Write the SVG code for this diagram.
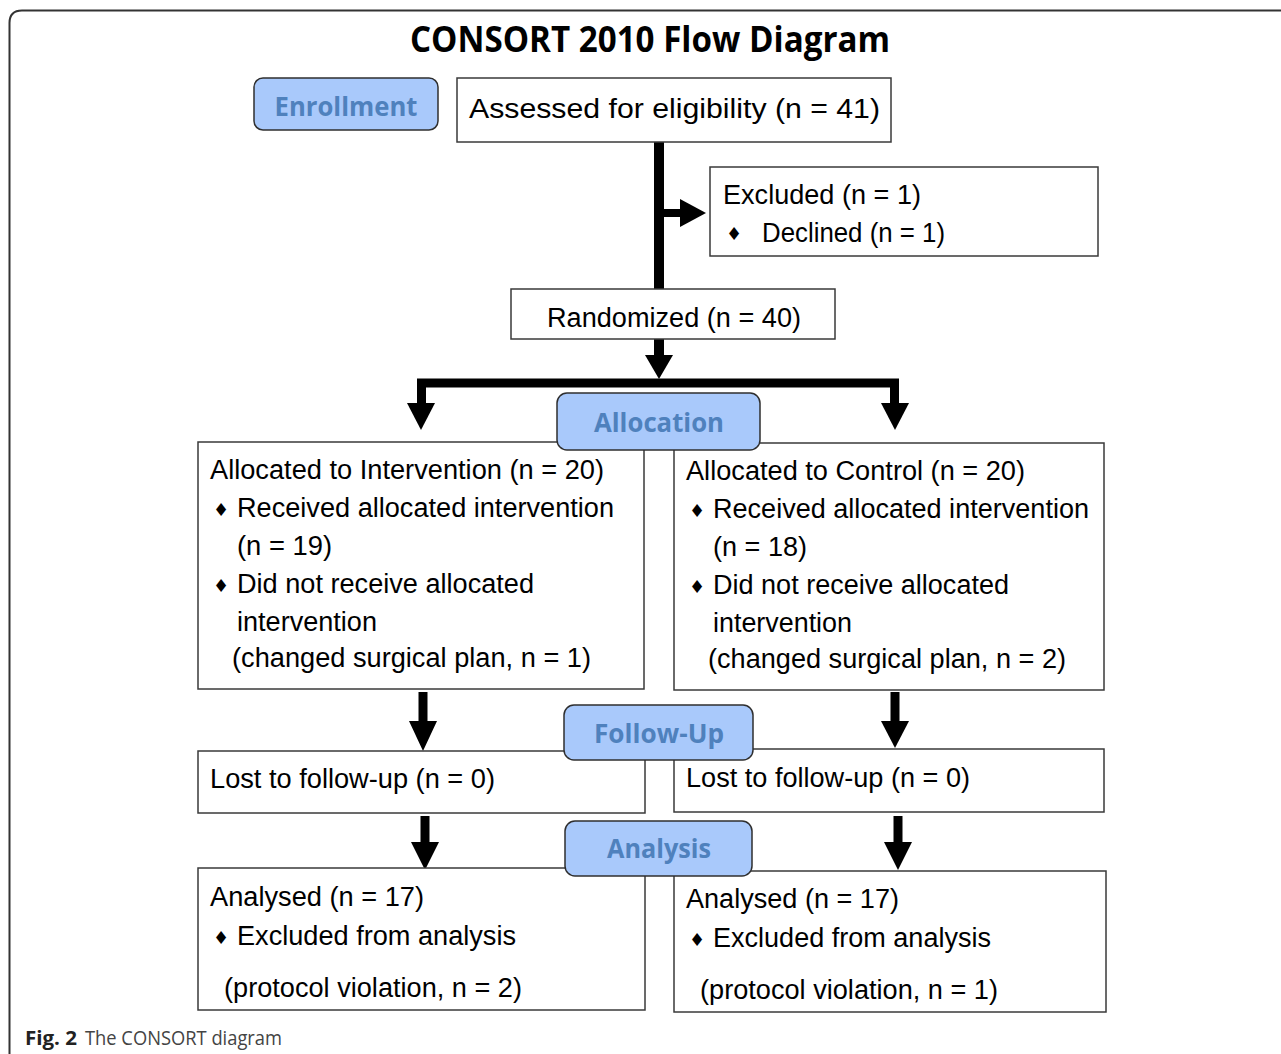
<svg xmlns="http://www.w3.org/2000/svg" width="1281" height="1054" viewBox="0 0 1281 1054">
<style>
.box{fill:#fff;stroke:#3a3a3a;stroke-width:1.5}
.stage{fill:#a9c9fb;stroke:#2f2f2f;stroke-width:1.5}
.st{font-family:"Open Sans","Liberation Sans",sans-serif;font-weight:bold;font-size:27px;fill:#4f81bd;text-anchor:middle}
.t{font-family:"Liberation Sans",Arial,sans-serif;font-size:27px;fill:#000}
.b{font-family:"DejaVu Sans",sans-serif;font-size:18px;fill:#000}
.ln{stroke:#000;fill:none}
.ah{fill:#000}
</style>
<rect width="1281" height="1054" fill="#fff"/>
<path d="M9.5 1060 V23 Q9.5 10.5 22 10.5 H1295" fill="none" stroke="#333" stroke-width="2"/>
<text x="650" y="52" font-family="Open Sans, Liberation Sans, sans-serif" font-weight="bold" font-size="35" text-anchor="middle" textLength="480" lengthAdjust="spacingAndGlyphs">CONSORT 2010 Flow Diagram</text>

<g id="connectors">
  <line class="ln" x1="659" y1="142" x2="659" y2="290" stroke-width="10"/>
  <line class="ln" x1="664" y1="213" x2="682" y2="213" stroke-width="8"/>
  <polygon class="ah" points="680,199 706,213 680,227"/>
  <line class="ln" x1="659" y1="339" x2="659" y2="358" stroke-width="10"/>
  <polygon class="ah" points="645,355 673,355 659,379"/>
  <path class="ln" d="M421.5 405 V383 H894.5 V405" stroke-width="9"/>
  <polygon class="ah" points="407,403 435,403 421,430"/>
  <polygon class="ah" points="881,403 909,403 895,430"/>
  <line class="ln" x1="423" y1="692" x2="423" y2="724" stroke-width="9"/>
  <polygon class="ah" points="409,721 437,721 423,751"/>
  <line class="ln" x1="895" y1="692" x2="895" y2="724" stroke-width="9"/>
  <polygon class="ah" points="881,721 909,721 895,748"/>
  <line class="ln" x1="425" y1="816" x2="425" y2="845" stroke-width="9"/>
  <polygon class="ah" points="411,842 439,842 425,870"/>
  <line class="ln" x1="898" y1="816" x2="898" y2="845" stroke-width="9"/>
  <polygon class="ah" points="884,842 912,842 898,870"/>
</g>

<g id="enrollment">
  <rect class="stage" x="254" y="78" width="184" height="52" rx="9"/>
  <text class="st" x="346" y="116" textLength="143" lengthAdjust="spacingAndGlyphs">Enrollment</text>
</g>
<g id="assessed">
  <rect class="box" x="457" y="78" width="434" height="64"/>
  <text class="t" x="469" y="118" font-size="29" textLength="411" lengthAdjust="spacingAndGlyphs">Assessed for eligibility (n = 41)</text>
</g>
<g id="excluded">
  <rect class="box" x="710" y="167" width="388" height="89"/>
  <text class="t" x="723" y="204" textLength="198" lengthAdjust="spacingAndGlyphs">Excluded (n = 1)</text>
  <text class="b" x="726" y="240">♦</text>
  <text class="t" x="762" y="242" font-size="25" textLength="183" lengthAdjust="spacingAndGlyphs">Declined (n = 1)</text>
</g>
<g id="randomized">
  <rect class="box" x="511" y="289" width="324" height="50"/>
  <text class="t" x="547" y="327" textLength="254" lengthAdjust="spacingAndGlyphs">Randomized (n = 40)</text>
</g>

<g id="alloc-intervention">
  <rect class="box" x="198" y="442" width="446" height="247"/>
  <text class="t" x="210" y="479" textLength="394" lengthAdjust="spacingAndGlyphs">Allocated to Intervention (n = 20)</text>
  <text class="b" x="213" y="516">♦</text>
  <text class="t" x="237" y="517" textLength="377" lengthAdjust="spacingAndGlyphs">Received allocated intervention</text>
  <text class="t" x="237" y="555" textLength="95" lengthAdjust="spacingAndGlyphs">(n = 19)</text>
  <text class="b" x="213" y="592">♦</text>
  <text class="t" x="237" y="593" textLength="297" lengthAdjust="spacingAndGlyphs">Did not receive allocated</text>
  <text class="t" x="237" y="631" textLength="140" lengthAdjust="spacingAndGlyphs">intervention</text>
  <text class="t" x="232" y="667" textLength="359" lengthAdjust="spacingAndGlyphs">(changed surgical plan, n = 1)</text>
</g>
<g id="alloc-control">
  <rect class="box" x="674" y="443" width="430" height="247"/>
  <text class="t" x="686" y="480" textLength="339" lengthAdjust="spacingAndGlyphs">Allocated to Control (n = 20)</text>
  <text class="b" x="689" y="517">♦</text>
  <text class="t" x="713" y="518" textLength="376" lengthAdjust="spacingAndGlyphs">Received allocated intervention</text>
  <text class="t" x="713" y="556" textLength="94" lengthAdjust="spacingAndGlyphs">(n = 18)</text>
  <text class="b" x="689" y="593">♦</text>
  <text class="t" x="713" y="594" textLength="296" lengthAdjust="spacingAndGlyphs">Did not receive allocated</text>
  <text class="t" x="713" y="632" textLength="139" lengthAdjust="spacingAndGlyphs">intervention</text>
  <text class="t" x="708" y="668" textLength="358" lengthAdjust="spacingAndGlyphs">(changed surgical plan, n = 2)</text>
</g>
<g id="allocation">
  <rect class="stage" x="557" y="393" width="203" height="57" rx="10"/>
  <text class="st" x="659" y="432" textLength="130" lengthAdjust="spacingAndGlyphs">Allocation</text>
</g>

<g id="lost-intervention">
  <rect class="box" x="198" y="751" width="447" height="62"/>
  <text class="t" x="210" y="788" textLength="285" lengthAdjust="spacingAndGlyphs">Lost to follow-up (n = 0)</text>
</g>
<g id="lost-control">
  <rect class="box" x="674" y="749" width="430" height="63"/>
  <text class="t" x="686" y="787" textLength="284" lengthAdjust="spacingAndGlyphs">Lost to follow-up (n = 0)</text>
</g>
<g id="followup">
  <rect class="stage" x="564" y="705" width="189" height="55" rx="10"/>
  <text class="st" x="659" y="743" textLength="130" lengthAdjust="spacingAndGlyphs">Follow-Up</text>
</g>

<g id="analysed-intervention">
  <rect class="box" x="198" y="868" width="447" height="142"/>
  <text class="t" x="210" y="906" textLength="214" lengthAdjust="spacingAndGlyphs">Analysed (n = 17)</text>
  <text class="b" x="213" y="944">♦</text>
  <text class="t" x="237" y="945" textLength="279" lengthAdjust="spacingAndGlyphs">Excluded from analysis</text>
  <text class="t" x="224" y="997" textLength="298" lengthAdjust="spacingAndGlyphs">(protocol violation, n = 2)</text>
</g>
<g id="analysed-control">
  <rect class="box" x="674" y="871" width="432" height="141"/>
  <text class="t" x="686" y="908" textLength="213" lengthAdjust="spacingAndGlyphs">Analysed (n = 17)</text>
  <text class="b" x="689" y="946">♦</text>
  <text class="t" x="713" y="947" textLength="278" lengthAdjust="spacingAndGlyphs">Excluded from analysis</text>
  <text class="t" x="700" y="999" textLength="298" lengthAdjust="spacingAndGlyphs">(protocol violation, n = 1)</text>
</g>
<g id="analysis">
  <rect class="stage" x="565" y="821" width="187" height="55" rx="10"/>
  <text class="st" x="659" y="858" textLength="104" lengthAdjust="spacingAndGlyphs">Analysis</text>
</g>

<text x="25" y="1045" font-family="Open Sans, Liberation Sans, sans-serif" font-size="20" font-weight="bold" fill="#222" textLength="52" lengthAdjust="spacingAndGlyphs">Fig. 2</text>
<text x="85" y="1045" font-family="Open Sans, Liberation Sans, sans-serif" font-size="20" fill="#444" textLength="197" lengthAdjust="spacingAndGlyphs">The CONSORT diagram</text>
</svg>
